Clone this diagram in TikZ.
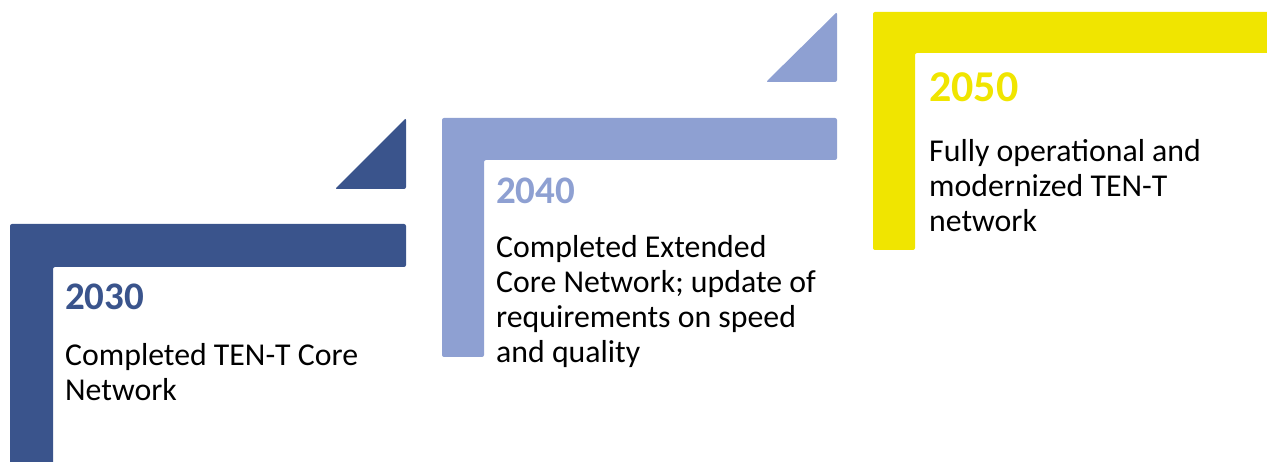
\documentclass[tikz,border=0pt]{standalone}
\usepackage{fontspec}
\setmainfont{Carlito}
\definecolor{darkblue}{HTML}{3A548C}
\definecolor{lightblue}{HTML}{8EA0D2}
\definecolor{yellowc}{HTML}{F0E500}
\begin{document}
\begin{tikzpicture}[x=1pt,y=-1pt,
  bar/.style={rounded corners=2pt},
  year/.style={anchor=base west,inner sep=0pt,font=\fontsize{39}{41}\selectfont\bfseries},
  bigyear/.style={year,font=\fontsize{44}{46}\selectfont\bfseries},
  body/.style={anchor=base west,inner sep=0pt,font=\fontsize{31.8}{35}\selectfont,text=black}]
\useasboundingbox (0,0) rectangle (1267,462);
% stage 1
\fill[darkblue,bar] (10,475) -- (10,224) -- (406,224) -- (406,267) -- (53,267) -- (53,475) -- cycle;
\fill[darkblue,bar] (406,118) -- (406,189) -- (335,189) -- cycle;
\node[year,text=darkblue] (y1) at (65,310) {2030};
\node[body] (t1) at (65,366) {\vtop{\baselineskip=35pt\hbox{Completed TEN-T Core}\hbox{Network}}};
% stage 2
\fill[lightblue,bar] (442,357) -- (442,118) -- (837,118) -- (837,160) -- (484,160) -- (484,357) -- cycle;
\fill[lightblue,bar] (837,12) -- (837,82) -- (766,82) -- cycle;
\node[year,text=lightblue] (y2) at (496,204) {2040};
\node[body] (t2) at (496,258) {\vtop{\baselineskip=35pt\hbox{Completed Extended}\hbox{Core Network; update of}\hbox{requirements on speed}\hbox{and quality}}};
% stage 3
\fill[yellowc,bar] (873,250) -- (873,12) -- (1280,12) -- (1280,53) -- (915,53) -- (915,250) -- cycle;
\node[bigyear,text=yellowc] (y3) at (929,102) {2050};
\node[body] (t3) at (929,162) {\vtop{\baselineskip=35pt\hbox{Fully operational and}\hbox{modernized TEN-T}\hbox{network}}};
\end{tikzpicture}
\end{document}
